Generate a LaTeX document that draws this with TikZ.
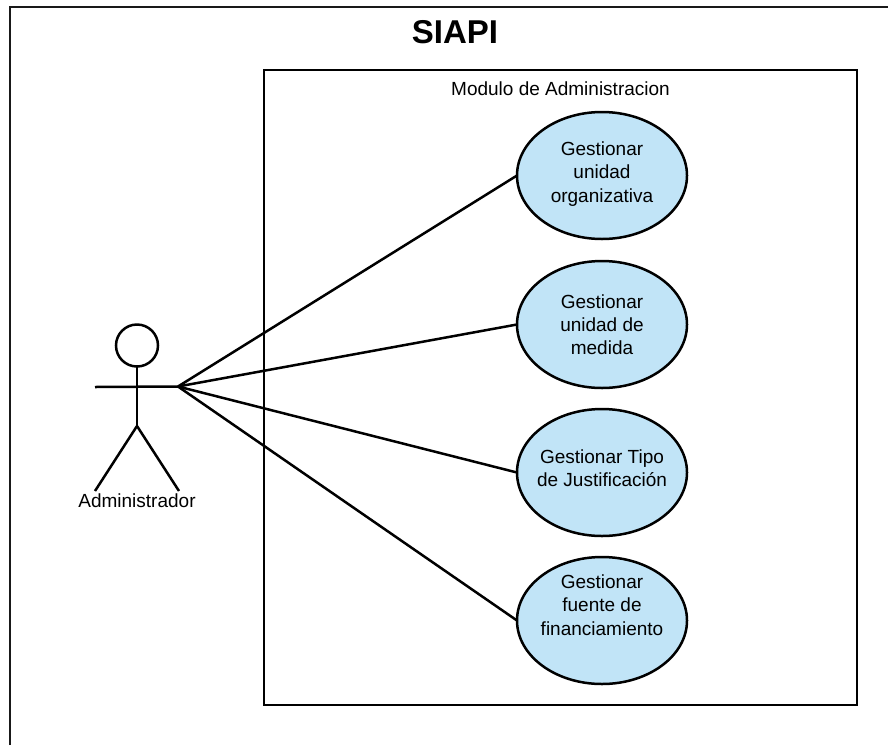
\documentclass[tikz,border=0pt]{standalone}
\usepackage{fontspec}
\setmainfont{Liberation Sans}
\usetikzlibrary{shapes.geometric}
\definecolor{ucfill}{HTML}{C1E4F7}
\tikzset{
  ln/.style={draw=black,line width=2.5pt},
  frameline/.style={draw=black!90,line width=2.5pt},
  usecase/.style={ellipse,draw=black,line width=2.5pt,outer sep=0pt,fill=ucfill,minimum width=170pt,minimum height=127pt,inner sep=0pt},
  uctext/.style={inner sep=0pt,align=center,font=\fontsize{19pt}{23.2pt}\selectfont,text=black},
  lbl/.style={inner sep=0pt,text=black},
}
\begin{document}
\begin{tikzpicture}[x=1pt,y=-1pt]
\useasboundingbox (0,0) rectangle (888,745);
\draw[frameline] (10,745) -- (10,7) -- (888,7);
\node[lbl,font=\fontsize{33pt}{38pt}\selectfont\bfseries] (title) at (455,32) {SIAPI};
\node[draw=black,line width=2.5pt,outer sep=0pt,minimum width=593pt,minimum height=635pt,inner sep=0pt,anchor=north west] (module) at (264,70) {};
\node[lbl,font=\fontsize{19pt}{23pt}\selectfont] (modlabel) at (560.5,88.5) {Modulo de Administracion};
\node[usecase] (uc1) at (602,175.5) {};
\node[usecase] (uc2) at (602,324.5) {};
\node[usecase] (uc3) at (602,472.5) {};
\node[usecase] (uc4) at (602,620.5) {};
\node[uctext] (t1) at (602,174) {Gestionar\\unidad\\organizativa};
\node[uctext] (t2) at (602,324.5) {Gestionar\\unidad de\\medida};
\node[uctext] (t3) at (602,468.5) {Gestionar Tipo\\de Justificación};
\node[uctext] (t4) at (602,605) {Gestionar\\fuente de\\financiamiento};
\node[circle,draw=black,line width=2.5pt,outer sep=0pt,minimum size=42pt,inner sep=0pt] (head) at (137,345.5) {};
\coordinate (armL) at (95,387);
\coordinate (hand) at (178,386.5);
\coordinate (hip) at (137,426);
\coordinate (footL) at (95,491);
\coordinate (footR) at (179,491);
\node[lbl,font=\fontsize{19pt}{23pt}\selectfont] (actor) at (137,501) {Administrador};
\draw[ln] (head.south) -- (hip);
\draw[ln] (armL) -- (hand);
\draw[ln] (footL) -- (hip) -- (footR);
\foreach \u in {uc1,uc2,uc3,uc4} \draw[ln] (hand) -- (\u.west);
\end{tikzpicture}
\end{document}
